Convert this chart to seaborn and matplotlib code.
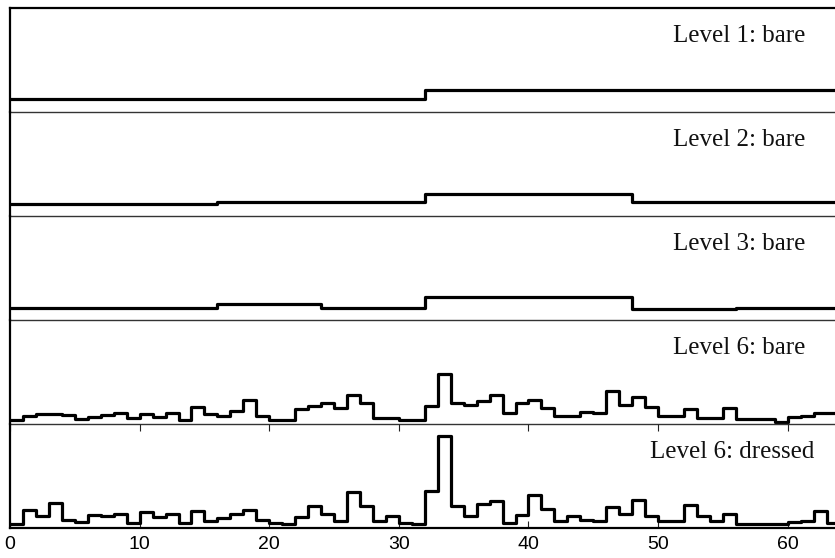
import numpy as np
import pandas as pd
import matplotlib
matplotlib.use("Agg")
import matplotlib.pyplot as plt
import seaborn as sns

# ---------------- data (bin heights, one value per bin, bins 0..63) ----------------
level1_bare = [
    12.7, 12.7, 12.7, 12.7, 12.7, 12.7, 12.7, 12.7, 12.7, 12.7, 12.7, 12.7, 12.7, 12.7, 12.7, 12.7,
    12.7, 12.7, 12.7, 12.7, 12.7, 12.7, 12.7, 12.7, 12.7, 12.7, 12.7, 12.7, 12.7, 12.7, 12.7, 12.7,
    21.7, 21.7, 21.7, 21.7, 21.7, 21.7, 21.7, 21.7, 21.7, 21.7, 21.7, 21.7, 21.7, 21.7, 21.7, 21.7,
    21.7, 21.7, 21.7, 21.7, 21.7, 21.7, 21.7, 21.7, 21.7, 21.7, 21.7, 21.7, 21.7, 21.7, 21.7, 21.7,
]
level2_bare = [
    12.0, 12.0, 12.0, 12.0, 12.0, 12.0, 12.0, 12.0, 12.0, 12.0, 12.0, 12.0, 12.0, 12.0, 12.0, 12.0,
    14.3, 14.3, 14.3, 14.3, 14.3, 14.3, 14.3, 14.3, 14.3, 14.3, 14.3, 14.3, 14.3, 14.3, 14.3, 14.3,
    22.0, 22.0, 22.0, 22.0, 22.0, 22.0, 22.0, 22.0, 22.0, 22.0, 22.0, 22.0, 22.0, 22.0, 22.0, 22.0,
    14.3, 14.3, 14.3, 14.3, 14.3, 14.3, 14.3, 14.3, 14.3, 14.3, 14.3, 14.3, 14.3, 14.3, 14.3, 14.3,
]
level3_bare = [
    11.7, 11.7, 11.7, 11.7, 11.7, 11.7, 11.7, 11.7, 11.7, 11.7, 11.7, 11.7, 11.7, 11.7, 11.7, 11.7,
    15.7, 15.7, 15.7, 15.7, 15.7, 15.7, 15.7, 15.7, 11.7, 11.7, 11.7, 11.7, 11.7, 11.7, 11.7, 11.7,
    22.7, 22.7, 22.7, 22.7, 22.7, 22.7, 22.7, 22.7, 22.7, 22.7, 22.7, 22.7, 22.7, 22.7, 22.7, 22.7,
    11.0, 11.0, 11.0, 11.0, 11.0, 11.0, 11.0, 11.0, 12.3, 12.3, 12.3, 12.3, 12.3, 12.3, 12.3, 12.3,
]
level6_bare = [
    4.3, 8.0, 10.0, 10.0, 8.7, 5.0, 7.0, 9.3, 11.0, 6.0, 10.0, 7.3, 11.0, 4.3, 16.5, 10.0,
    7.7, 12.5, 24.3, 8.3, 4.3, 4.3, 15.0, 17.5, 20.5, 16.0, 29.3, 21.0, 6.0, 6.0, 4.3, 4.3,
    17.7, 50.0, 21.0, 19.3, 22.7, 29.3, 11.0, 21.0, 24.0, 16.0, 7.7, 7.7, 11.7, 10.7, 33.3, 19.3,
    26.7, 17.3, 7.5, 7.5, 14.5, 6.0, 6.0, 16.0, 4.5, 4.5, 4.5, 1.7, 6.7, 8.3, 11.0, 10.5,
]
level6_dressed = [
    4.0, 18.3, 11.5, 25.0, 7.7, 6.0, 13.0, 12.0, 14.0, 5.3, 16.3, 10.7, 13.5, 5.3, 16.7, 6.7,
    10.0, 14.0, 18.3, 7.5, 5.3, 3.8, 11.3, 22.0, 14.3, 6.5, 36.3, 22.0, 7.0, 12.0, 5.3, 4.0,
    36.7, 91.5, 22.0, 12.0, 23.5, 27.0, 5.0, 12.5, 33.0, 19.0, 6.7, 12.0, 8.0, 6.7, 21.0, 14.3,
    28.3, 12.3, 6.7, 6.7, 22.5, 12.0, 7.0, 13.5, 3.5, 3.5, 3.5, 3.5, 5.8, 6.5, 16.5, 5.0,
]
panel_labels = ["Level 1: bare", "Level 2: bare", "Level 3: bare",
                "Level 6: bare", "Level 6: dressed"]
xtick_values = [0, 10, 20, 30, 40, 50, 60]
xtick_labels = ["0", "10", "20", "30", "40", "50", "60"]

series = [level1_bare, level2_bare, level3_bare, level6_bare, level6_dressed]

# ---------------- plotting ----------------
sns.set_theme(style="white")
plt.rcParams["font.family"] = ["Liberation Sans", "DejaVu Sans"]

fig = plt.figure(figsize=(8.35, 5.58), dpi=100)
fig.patch.set_facecolor("white")
axes = fig.subplots(
    5, 1, sharex=True,
    gridspec_kw=dict(hspace=0, left=0.012, right=1.0, top=0.9857, bottom=0.0538),
)

label_right = [0.9636, 0.9636, 0.9636, 0.9636, 0.9745]

for i, (ax, vals, lab) in enumerate(zip(axes, series, panel_labels)):
    ax.set_facecolor("none")
    n = len(vals)
    df = pd.DataFrame({
        "x": np.arange(n + 1),
        "h": list(vals) + [vals[-1]],
    })
    sns.lineplot(data=df, x="x", y="h", ax=ax, estimator=None,
                 drawstyle="steps-post", color="black", linewidth=2.3)
    ax.set_xlim(0, 63.65)
    ax.set_ylim(0, 104)
    ax.set_xlabel("")
    ax.set_ylabel("")
    ax.set_yticks([])
    ax.text(label_right[i], 1 - 34 / 104, lab, transform=ax.transAxes,
            ha="right", va="baseline", fontsize=18,
            family=["Liberation Serif", "DejaVu Serif"], color="#111111")

    for side in ("top", "bottom", "left", "right"):
        ax.spines[side].set_visible(False)
    ax.spines["left"].set_visible(True)
    ax.spines["left"].set_color("black")
    ax.spines["left"].set_linewidth(1.6)
    if i == 0:
        ax.spines["top"].set_visible(True)
        ax.spines["top"].set_color("black")
        ax.spines["top"].set_linewidth(1.6)
    if i < 4:
        ax.spines["bottom"].set_visible(True)
        ax.spines["bottom"].set_color("#333333")
        ax.spines["bottom"].set_linewidth(1.0)
        ax.spines["bottom"].set_zorder(5)
        ax.tick_params(axis="x", bottom=False, top=False, labelbottom=False)
    else:
        ax.spines["bottom"].set_visible(True)
        ax.spines["bottom"].set_color("black")
        ax.spines["bottom"].set_linewidth(1.6)
        ax.set_xticks(xtick_values)
        ax.set_xticklabels(xtick_labels)
        ax.tick_params(axis="x", direction="in", bottom=True, top=True,
                       length=5, width=0.8, color="#222222",
                       labelsize=14, pad=6, labelcolor="black")

fig.savefig("out.png", dpi=100, facecolor="white")
